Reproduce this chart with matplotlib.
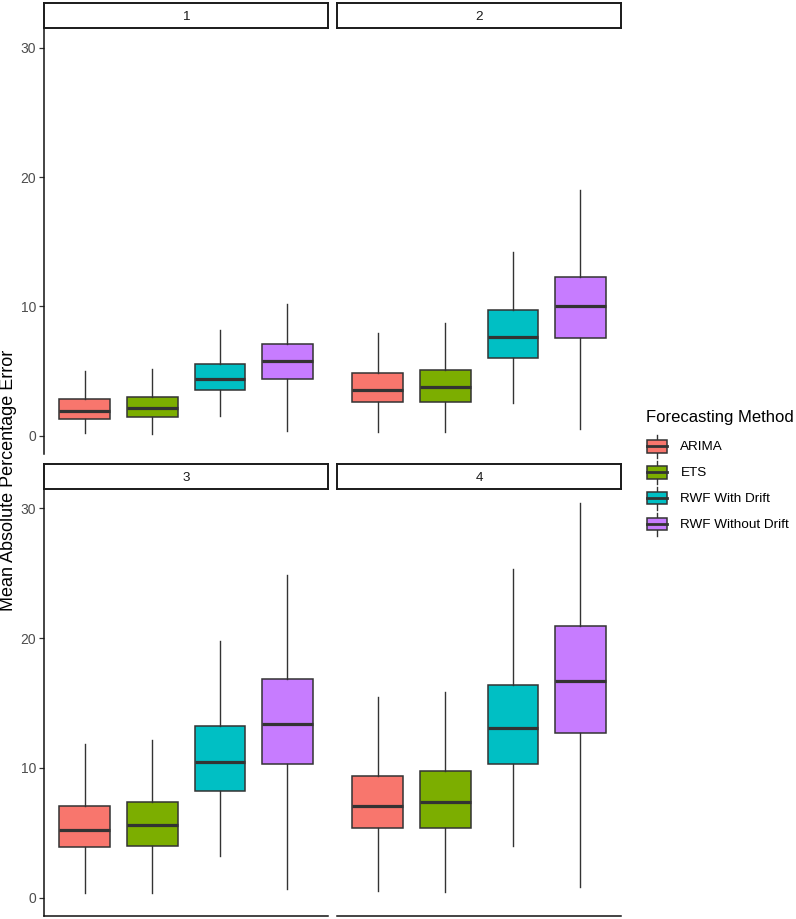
import matplotlib
matplotlib.use("Agg")
import matplotlib.pyplot as plt
from matplotlib.patches import Rectangle, Patch
from matplotlib.lines import Line2D
from matplotlib.legend_handler import HandlerBase

plt.rcParams['font.family'] = ['Liberation Sans', 'DejaVu Sans']

methods = ["ARIMA", "ETS", "RWF With Drift", "RWF Without Drift"]
colors = ["#F8766D", "#7CAE00", "#00BFC4", "#C77CFF"]
panels = ["1", "2", "3", "4"]

# per panel, per method
whislo = [[0.18, 0.13, 1.52, 0.39],
          [0.26, 0.26, 2.50, 0.52],
          [0.39, 0.34, 3.23, 0.70],
          [0.52, 0.46, 3.95, 0.85]]
q1 = [[1.31, 1.47, 3.52, 4.39],
      [2.62, 2.62, 6.01, 7.53],
      [3.87, 3.95, 8.21, 10.27],
      [5.34, 5.34, 10.32, 12.72]]
med = [[1.93, 2.11, 4.37, 5.78],
       [3.52, 3.75, 7.63, 10.00],
       [5.21, 5.60, 10.43, 13.42],
       [7.07, 7.35, 13.11, 16.72]]
q3 = [[2.83, 2.96, 5.53, 7.12],
      [4.86, 5.07, 9.69, 12.26],
      [7.04, 7.35, 13.24, 16.83],
      [9.37, 9.73, 16.39, 20.95]]
whishi = [[4.99, 5.12, 8.17, 10.15],
          [7.97, 8.69, 14.19, 19.02],
          [11.87, 12.18, 19.77, 24.90],
          [15.43, 15.82, 25.34, 30.45]]
yticks = [0, 10, 20, 30]

W, H = 796, 919
fig = plt.figure(figsize=(W / 100, H / 100), dpi=100)

def fx(px):
    return px / W

def fy(py):
    return 1 - py / H

panel_w = 283.7
cols_x = [44.3, 337.3]
rows_y = [(28.3, 454.0), (489.0, 916.0)]
strip_h = 25.0
EDGE = "#333333"

for i in range(4):
    r, c = divmod(i, 2)
    top, bot = rows_y[r]
    ax = fig.add_axes([fx(cols_x[c]), fy(bot), fx(panel_w), (bot - top) / H])
    stats = []
    for j in range(4):
        stats.append(dict(med=med[i][j], q1=q1[i][j], q3=q3[i][j],
                          whislo=whislo[i][j], whishi=whishi[i][j], fliers=[]))
    bp = ax.bxp(stats, positions=[1, 2, 3, 4], widths=0.75, patch_artist=True,
                showfliers=False, showcaps=False,
                boxprops=dict(edgecolor=EDGE, linewidth=1.1),
                medianprops=dict(color=EDGE, linewidth=2.3, solid_capstyle='butt'),
                whiskerprops=dict(color=EDGE, linewidth=1.0))
    for patch, col in zip(bp['boxes'], colors):
        patch.set_facecolor(col)
    ax.set_xlim(0.4, 4.6)
    ax.set_ylim(-1.42, 31.5)
    ax.set_xticks([])
    ax.set_yticks(yticks)
    for s in ['top', 'right']:
        ax.spines[s].set_visible(False)
    ax.spines['left'].set_visible(c == 0)
    ax.spines['bottom'].set_visible(r == 1)
    for s in ['left', 'bottom']:
        ax.spines[s].set_color('#111111')
        ax.spines[s].set_linewidth(1.1)
    if c == 0:
        ax.tick_params(axis='y', length=3.8, width=0.9, color=EDGE,
                       labelcolor='#4D4D4D', labelsize=10, pad=2)
    else:
        ax.tick_params(axis='y', left=False, labelleft=False)
    ax.tick_params(axis='x', bottom=False, labelbottom=False)
    # strip
    sax = fig.add_axes([fx(cols_x[c]), fy(top), fx(panel_w), strip_h / H])
    sax.set_xticks([]); sax.set_yticks([])
    for s in sax.spines.values():
        s.set_color('#1A1A1A'); s.set_linewidth(1.4)
    sax.text(0.5, 0.45, panels[i], ha='center', va='center', fontsize=9.7,
             color='#1A1A1A', transform=sax.transAxes)

fig.text(fx(8.8), fy(480), "Mean Absolute Percentage Error", rotation=90,
         ha='center', va='center', fontsize=13, color='black')


class BoxHandler(HandlerBase):
    def create_artists(self, legend, orig_handle, xdescent, ydescent,
                       width, height, fontsize, trans):
        x0 = -xdescent
        y0 = -ydescent
        cx = x0 + width / 2
        bh = height * 0.55
        by = y0 + (height - bh) / 2
        l1 = Line2D([cx, cx], [y0, by], color=EDGE, lw=1.0, transform=trans)
        l2 = Line2D([cx, cx], [by + bh, y0 + height], color=EDGE, lw=1.0, transform=trans)
        rect = Rectangle((x0, by), width, bh, facecolor=orig_handle.get_facecolor(),
                         edgecolor=EDGE, lw=1.1, transform=trans)
        m = Line2D([x0, x0 + width], [y0 + height / 2] * 2, color=EDGE, lw=2.0,
                   transform=trans)
        return [l1, l2, rect, m]


handles = [Patch(facecolor=col, label=m) for col, m in zip(colors, methods)]
leg = fig.legend(handles=handles, labels=methods, loc='upper left',
                 bbox_to_anchor=(fx(646.5), fy(410)), frameon=False,
                 title="Forecasting Method", title_fontsize=12, fontsize=9.7,
                 handler_map={Patch: BoxHandler()}, handlelength=1.55,
                 handleheight=2.25, labelspacing=0.22, handletextpad=0.97,
                 borderpad=0, borderaxespad=0, alignment='left')
leg._legend_box.sep = 7.0

fig.savefig("out.png", dpi=100)
